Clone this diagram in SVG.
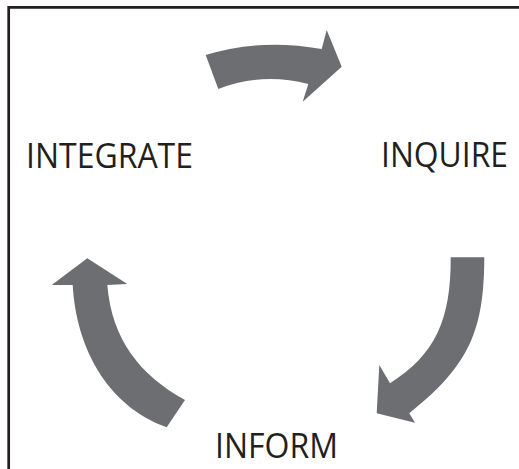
<svg xmlns="http://www.w3.org/2000/svg" width="519" height="469" viewBox="0 0 519 469">
  <style>
    .frame { fill: none; stroke: #231f20; stroke-width: 2.7; }
    .arrow { fill: #6d6e71; stroke: none; }
    .label { font-family: "Open Sans", "Liberation Sans", sans-serif; font-size: 34px; fill: #231f20; }
  </style>
  <rect width="519" height="469" fill="#ffffff"/>
  <path class="frame" d="M8.7,469 V7.3 H519"/>

  <g id="connectors">
    <!-- INTEGRATE to INQUIRE -->
    <path class="arrow" d="M205.7,55 Q260,38 321.7,49 L326.7,30 L341.7,66.7 L302.7,101.7 L308.3,84 Q262,72 218.3,89 Z"/>
    <!-- INQUIRE to INFORM -->
    <path class="arrow" d="M450.7,257.3 L484.3,257.3 C484,330 470,365 409.3,413.3 L415,422.7 L376.7,413.3 L379.3,365 L390,383.3 C435,355 451,320 450.7,257.3 Z"/>
    <!-- INFORM to INTEGRATE -->
    <path class="arrow" d="M87.3,258.3 L127.3,284 L107.3,285 C112,340 140,375 185,400 L166.7,427.3 C105,405 76,345 72.7,285 L51.7,285 Z"/>
  </g>

  <g id="integrate">
    <text class="label" x="26" y="168" textLength="167" lengthAdjust="spacingAndGlyphs">INTEGRATE</text>
  </g>
  <g id="inquire">
    <text class="label" x="381" y="167" textLength="127" lengthAdjust="spacingAndGlyphs">INQUIRE</text>
  </g>
  <g id="inform">
    <text class="label" x="215" y="457.5" textLength="123" lengthAdjust="spacingAndGlyphs">INFORM</text>
  </g>
</svg>
